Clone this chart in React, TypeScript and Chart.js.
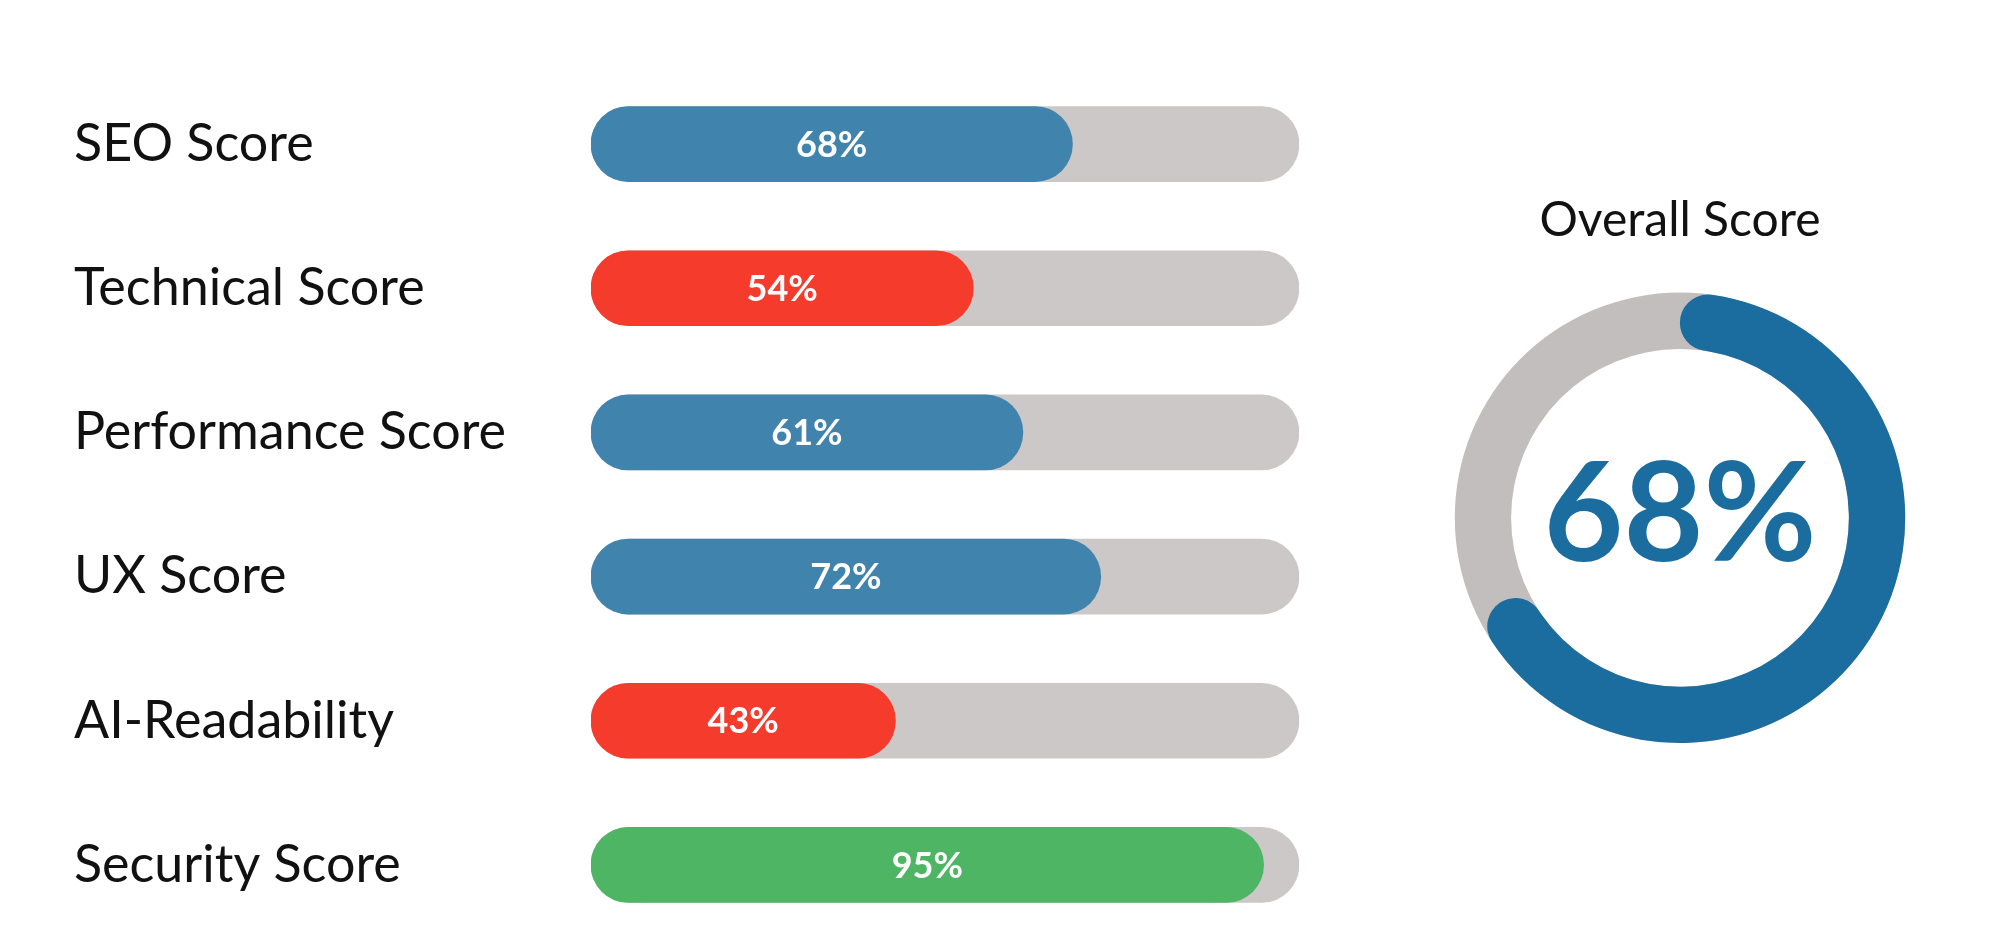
import React, { useEffect, useRef } from "react";
import { Chart, registerables } from "chart.js";

Chart.register(...registerables);

const categories = [
  "SEO Score",
  "Technical Score",
  "Performance Score",
  "UX Score",
  "AI-Readability",
  "Security Score",
];
const scores = [68, 54, 61, 72, 43, 95];
const trackValues = [100, 100, 100, 100, 100, 100];
const barColors = ["#4084ad", "#f43b2c", "#4084ad", "#4084ad", "#f43b2c", "#4db564"];
const TRACK = "#cbc8c7";

const overallLabels = ["Score", "Remaining"];
const overallValues = [68, 32];
const overallText = "68%";
const overallTitle = "Overall Score";
const DONUT_BLUE = "#1a6d9e";
const DONUT_GRAY = "#c1bebd";

const FONT = "Lato, 'Open Sans', sans-serif";

const valueLabelPlugin = {
  id: "valueLabels",
  afterDatasetsDraw(chart: any) {
    const meta = chart.getDatasetMeta(0);
    const ctx = chart.ctx;
    ctx.save();
    ctx.fillStyle = "#ffffff";
    ctx.font = `bold 36px ${FONT}`;
    ctx.textAlign = "center";
    ctx.textBaseline = "middle";
    meta.data.forEach((bar: any, i: number) => {
      const p = bar.getProps(["x", "base", "y"], true);
      ctx.fillText(`${scores[i]}%`, (p.x + p.base) / 2, p.y + 1);
    });
    ctx.restore();
  },
};

const ringPlugin = {
  id: "ringBg",
  beforeDatasetsDraw(chart: any) {
    const arc = chart.getDatasetMeta(0).data[0];
    if (!arc) return;
    const { x, y, innerRadius, outerRadius } = arc.getProps(
      ["x", "y", "innerRadius", "outerRadius"],
      true
    );
    const ctx = chart.ctx;
    ctx.save();
    ctx.fillStyle = DONUT_GRAY;
    ctx.beginPath();
    ctx.arc(x, y, outerRadius, 0, Math.PI * 2);
    ctx.arc(x, y, innerRadius, 0, Math.PI * 2, true);
    ctx.closePath();
    ctx.fill();
    ctx.restore();
  },
  afterDatasetsDraw(chart: any) {
    const arc = chart.getDatasetMeta(0).data[0];
    if (!arc) return;
    const { x, y } = arc.getProps(["x", "y"], true);
    const ctx = chart.ctx;
    ctx.save();
    ctx.fillStyle = DONUT_BLUE;
    ctx.font = `bold 138px ${FONT}`;
    ctx.textAlign = "center";
    ctx.textBaseline = "alphabetic";
    ctx.fillText(overallText, x, y + 43);
    ctx.restore();
  },
};

export default function App() {
  const barRef = useRef<HTMLCanvasElement | null>(null);
  const donutRef = useRef<HTMLCanvasElement | null>(null);

  useEffect(() => {
    if (!barRef.current || !donutRef.current) return;
    const bar = new Chart(barRef.current, {
      type: "bar",
      data: {
        labels: categories,
        datasets: [
          {
            data: scores,
            backgroundColor: barColors,
            borderRadius: 38,
            borderSkipped: false,
            barThickness: 75,
            grouped: false,
            order: 0,
          },
          {
            data: trackValues,
            backgroundColor: TRACK,
            borderRadius: 38,
            borderSkipped: false,
            barThickness: 75,
            grouped: false,
            order: 1,
          },
        ],
      },
      options: {
        indexAxis: "y",
        animation: false,
        responsive: false,
        devicePixelRatio: 1,
        layout: { padding: { left: 74, right: 11, top: 72, bottom: 4 } },
        plugins: { legend: { display: false }, tooltip: { enabled: false } },
        scales: {
          x: { display: false, min: 0, max: 100 },
          y: {
            grid: { display: false },
            border: { display: false },
            afterFit: (scale: any) => {
              scale.width = 517;
              scale.paddingTop = 0;
              scale.paddingBottom = 0;
            },
            ticks: {
              crossAlign: "far",
              color: "#111111",
              font: { family: FONT, size: 52 },
              padding: 0,
            },
          },
        },
      },
      plugins: [valueLabelPlugin],
    } as any);

    const donut = new Chart(donutRef.current, {
      type: "doughnut",
      data: {
        labels: overallLabels,
        datasets: [
          {
            data: overallValues,
            backgroundColor: [DONUT_BLUE, "rgba(0,0,0,0)"],
            borderWidth: 0,
            borderRadius: [28, 0],
          },
        ],
      },
      options: {
        animation: false,
        responsive: false,
        devicePixelRatio: 1,
        cutout: "75%",
        rotation: 0,
        layout: { padding: 0 },
        plugins: {
          legend: { display: false },
          tooltip: { enabled: false },
          title: {
            display: true,
            text: overallTitle,
            color: "#111111",
            font: { family: FONT, size: 48, weight: "normal" },
            padding: { top: 192, bottom: 43 },
          },
        },
      },
      plugins: [ringPlugin],
    } as any);

    return () => {
      bar.destroy();
      donut.destroy();
    };
  }, []);

  return (
    <div
      style={{
        position: "fixed",
        left: 0,
        top: 0,
        width: 1999,
        height: 941,
        background: "#ffffff",
        overflow: "hidden",
      }}
    >
      <canvas
        ref={barRef}
        width={1310}
        height={941}
        style={{ position: "absolute", left: 0, top: 0, width: 1310, height: 941 }}
      />
      <canvas
        ref={donutRef}
        width={600}
        height={743}
        style={{ position: "absolute", left: 1380, top: 0, width: 600, height: 743 }}
      />
    </div>
  );
}
